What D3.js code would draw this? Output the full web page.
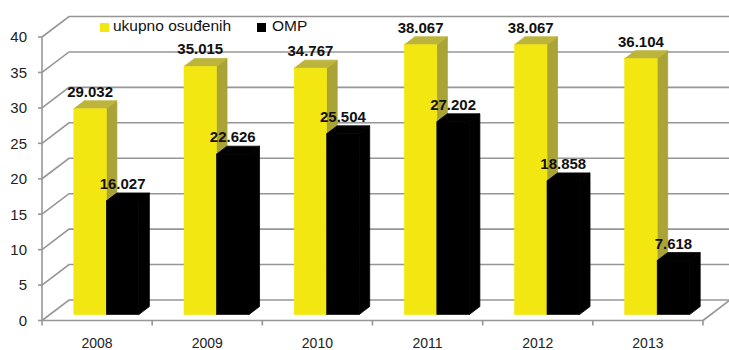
<!DOCTYPE html>
<html>
<head>
<meta charset="utf-8">
<script src="https://cdn.jsdelivr.net/npm/d3@7"></script>
<style>
  html, body { margin: 0; padding: 0; background: #fff; }
  svg { display: block; }
</style>
</head>
<body>
<svg id="chart" width="729" height="350"></svg>
<script>
const years = ["2008", "2009", "2010", "2011", "2012", "2013"];
const seriesNames = ["ukupno osuđenih", "OMP"];
const ukupno = [29.032, 35.015, 34.767, 38.067, 38.067, 36.104];
const omp = [16.027, 22.626, 25.504, 27.202, 18.858, 7.618];
const yTicks = [0, 5, 10, 15, 20, 25, 30, 35, 40];

const colors = {
  "ukupno osuđenih": { front: "#f3e712", side: "#aaa336", top: "#bdb53b" },
  "OMP": { front: "#000000", side: "#000000", top: "#000000" }
};

const svg = d3.select("#chart");
const DX = 27, DY = -20.5;
const x = d3.scaleBand().domain(years).range([42, 703]);
const xs = d3.scaleBand().domain(seriesNames).range([24, 89]);
const y = d3.scaleLinear().domain([0, 40]).range([320.5, 37]);
const P = (xf, v, d) => [xf + d * DX, y(v) + d * DY];
const gridColor = "#969696";

const g = svg.append("g");

// side wall + back wall gridlines
yTicks.forEach(v => {
  const a = P(42, v, 0), b = P(42, v, 1);
  g.append("path")
    .attr("d", `M${a[0]},${a[1]}L${b[0]},${b[1]}L740,${b[1]}`)
    .attr("fill", "none").attr("stroke", gridColor).attr("stroke-width", 1.6);
  g.append("line").attr("x1", 38).attr("x2", 42).attr("y1", y(v)).attr("y2", y(v))
    .attr("stroke", gridColor).attr("stroke-width", 1.6);
});

// front vertical axis
g.append("line").attr("x1", 42).attr("x2", 42).attr("y1", y(40)).attr("y2", y(0))
  .attr("stroke", gridColor).attr("stroke-width", 1.6);
// floor front edge
g.append("line").attr("x1", 42).attr("x2", 703).attr("y1", y(0)).attr("y2", y(0))
  .attr("stroke", gridColor).attr("stroke-width", 1.6);
// floor right edge
{
  const a = P(703, 0, 0), b = P(703, 0, 1);
  g.append("line").attr("x1", a[0]).attr("y1", a[1]).attr("x2", b[0]).attr("y2", b[1])
    .attr("stroke", gridColor).attr("stroke-width", 1.6);
}
// category ticks
const bounds = years.map(d => x(d)).concat([x(years[years.length - 1]) + x.bandwidth()]);
bounds.forEach(bx => {
  g.append("line").attr("x1", bx).attr("x2", bx).attr("y1", y(0)).attr("y2", y(0) + 5)
    .attr("stroke", gridColor).attr("stroke-width", 1.6);
});

// y labels
yTicks.forEach(v => {
  g.append("text").attr("x", 27).attr("y", y(v)).attr("dy", "0.36em")
    .attr("text-anchor", "end")
    .attr("font-family", "'Liberation Sans', Arial, sans-serif")
    .attr("font-size", 15).attr("fill", "#222").text(v);
});
// x labels
years.forEach(yr => {
  g.append("text").attr("x", x(yr) + x.bandwidth() / 2).attr("y", 348)
    .attr("text-anchor", "middle")
    .attr("font-family", "'Liberation Sans', Arial, sans-serif")
    .attr("font-size", 14).attr("fill", "#222").text(yr);
});

// bars
const d0 = 0.29, d1 = 0.68;
const pts = arr => arr.map(p => p.join(",")).join(" ");
const dataBy = { "ukupno osuđenih": ukupno, "OMP": omp };
const labels = [];
years.forEach((yr, i) => {
  seriesNames.forEach(s => {
    const v = dataBy[s][i];
    const xf = x(yr) + xs(s);
    const w = xs.bandwidth();
    const c = colors[s];
    g.append("polygon").attr("points", pts([P(xf + w, 0, d0), P(xf + w, 0, d1), P(xf + w, v, d1), P(xf + w, v, d0)]))
      .attr("fill", c.side).attr("stroke", c.side).attr("stroke-width", 0.8).attr("stroke-linejoin", "round");
    g.append("polygon").attr("points", pts([P(xf, v, d0), P(xf + w, v, d0), P(xf + w, v, d1), P(xf, v, d1)]))
      .attr("fill", c.top).attr("stroke", c.top).attr("stroke-width", 0.8).attr("stroke-linejoin", "round");
    const tl = P(xf, v, d0), br = P(xf + w, 0, d0);
    g.append("rect").attr("x", tl[0]).attr("y", tl[1]).attr("width", br[0] - tl[0]).attr("height", br[1] - tl[1])
      .attr("fill", c.front).attr("stroke", c.front).attr("stroke-width", 0.6);
    labels.push({ x: tl[0] + w / 2, y: tl[1] - 12, t: d3.format(".3f")(v) });
  });
});

labels.forEach(l => {
  g.append("text").attr("x", l.x).attr("y", l.y).attr("text-anchor", "middle")
    .attr("font-family", "'Liberation Sans', Arial, sans-serif")
    .attr("font-weight", "bold").attr("font-size", 15).attr("fill", "#111").text(l.t);
});

// legend
const legend = [
  { name: seriesNames[0], sx: 100, tx: 113, color: colors[seriesNames[0]].front },
  { name: seriesNames[1], sx: 257, tx: 272, color: colors[seriesNames[1]].front }
];
legend.forEach(l => {
  g.append("rect").attr("x", l.sx).attr("y", 23).attr("width", 9).attr("height", 9).attr("fill", l.color);
  g.append("text").attr("x", l.tx).attr("y", 31)
    .attr("font-family", "'Liberation Sans', Arial, sans-serif")
    .attr("font-size", 15.5).attr("fill", "#111").text(l.name);
});
</script>
</body>
</html>
